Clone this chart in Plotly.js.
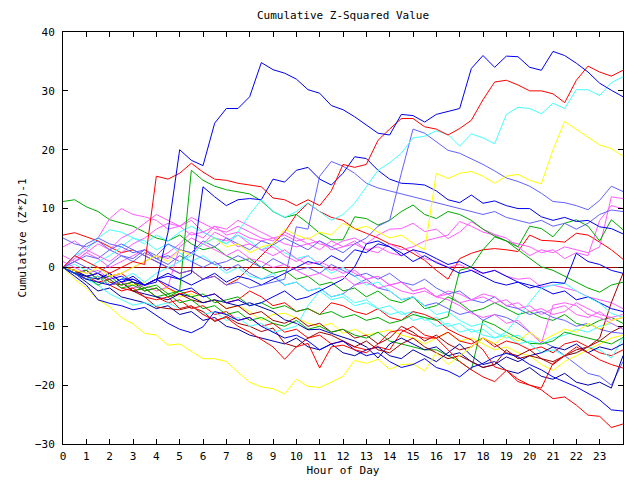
<!DOCTYPE html>
<html>
<head>
<meta charset="utf-8">
<script src="https://cdn.plot.ly/plotly-3.0.1.min.js"></script>
<style>html,body{margin:0;padding:0;background:#fff;}#chart{width:640px;height:480px;}</style>
</head>
<body>
<div id="chart"></div>
<script>
// Hour of day (half-hour samples)
const hours = [0,0.5,1,1.5,2,2.5,3,3.5,4,4.5,5,5.5,6,6.5,7,7.5,8,8.5,9,9.5,10,10.5,11,11.5,12,12.5,13,13.5,14,14.5,15,15.5,16,16.5,17,17.5,18,18.5,19,19.5,20,20.5,21,21.5,22,22.5,23,23.5,24];
const hourTicks = [0,1,2,3,4,5,6,7,8,9,10,11,12,13,14,15,16,17,18,19,20,21,22,23];
const valueTicks = [-30,-20,-10,0,10,20,30,40];

// Series values (cumulative Z*Z - 1)
const b1 = [0,-1,-2,-2.5,-3,-2,-2,-3,-2.5,6,20,18.2,17.3,24.5,27,27,29,34.8,33.6,33,32,30.2,29.6,27.5,26.8,25.6,24.2,22.8,22.5,26,25.8,24.7,26,26.5,27,33.8,36,34,35.9,35.8,34,33.5,36.7,36,34.7,33.2,31.3,30.1,29];
const r1 = [0,2,1,0,-1,0,1,0.5,15.5,15,16,17.7,16.2,15,14.8,14.3,14,13.7,11.8,11.5,10.5,11.5,10.5,13,17.5,17,17.5,21.6,23.5,25.3,25.3,23.9,23.5,22.5,23.6,25,28.5,31.5,31.8,31,30,30,29.5,28,31.8,34.2,33.2,32.5,33.5];
const c1 = [0,-1,-2,-1.5,-3,-2,-1,-2.5,-1,0,1,2,4,5,4,6,9,11.5,9.5,8.5,9.5,11,9.5,8,9,10.9,13.7,16.5,17.8,19.4,22,22.3,23.2,22.6,20.6,22.7,22,21,26,27.2,27,26.1,27.9,27,30.2,30.2,29.2,31.4,32.4];
const y1 = [0,-0.5,-1,0,-1.5,-1,0,1,2,1,3,2,4,5,3.5,4,2.5,3.5,4,6.5,5.5,4.8,6,5.5,7.5,6.5,7,6,5,5.5,4.1,3,16,15.1,16,16.3,15.5,14.3,15.5,15.8,14.8,14.2,20,24.8,23.5,22.2,20.8,20.2,18.9];
const sb2 = [0,1,0,-1,0.5,2,1.5,3,2,4,3,2.5,4.5,3.5,5,4,3,4.5,3.8,5,4,3,4.5,3.5,2.5,4,5,7,8,16,23.5,22.8,21.3,19.9,19.4,18.5,17.5,16.4,15.2,14.6,13.8,12.6,11.2,11,10.5,9.8,11.4,13.8,12.9];
const b4 = [0,-1,-1.5,-2,-1,-2.5,-2,-3,-2,-1.5,-2,-1,13.7,12,10.5,11.5,11.7,11.5,15,14.5,16.5,17,15,14,16,18.8,18.5,16.5,15,14.3,14.2,14,13,11.5,11,12.3,10.9,11.3,10.5,10,10,8.6,8,8.5,7.8,8,6.9,6.6,5.7];
const g2 = [0,-1,-1.5,-3,-2,-3.5,-3,-4,-3.5,-5,-4,16.5,14.8,13.8,13.2,12.9,12.5,11.3,9.5,8.5,9,7.5,5.8,4.7,4.7,8.6,8.3,7.2,8,9.5,10.6,9,8.3,9.5,9,8,6.5,5.3,4.5,3,1.5,0.1,-0.5,-1.5,-2.5,-3.5,-4.2,-3,-2.5];
const g1 = [11.2,11.5,10.3,9.5,8.1,7.5,7,6,5,4.5,5.5,4,3,3.5,2,1,1.5,0,-1,-0.5,-2,-1.5,-3,-2.5,-4,-3.5,-5,-4,-5.5,-6,-5,-7,-6.5,-5,-6,-7.5,-7,-6,-7,-8,-7.5,-8.5,-9,-8,-9.5,-10,-9,-8.5,-9.5];
const g3 = [0,-1,-0.5,-2,-1.5,-3,-2.5,-3.5,-3,-4.5,-4,-5,-4.5,-6,-5.5,-5,-6.5,-6,-7,-6.5,-7.5,-7,-8,-7.5,-8.5,-8,-9,-8.5,-9.5,-9,-8,-8.5,-9,-8.4,-0.5,0.1,3,5.2,4.5,3.5,7,6.6,5.2,7.5,8.1,7,4.5,8.1,6.4];
const g4 = [0,-1,-2,-1.5,-3,-2.5,-4,-3.5,-5,-4.5,-6,-5.5,-7,-6.5,-8,-7.5,-9,-8.5,-9.5,-10,-9,-10.5,-10,-11,-10.5,-11.5,-12,-11,-12.5,-13,-13.5,-14,-14,-15,-16,-17.4,-9,-9.8,-11,-12,-12.9,-13,-12.5,-11,-11.5,-12,-12.6,-13,-11.9];
const m1 = [3.5,4.5,3,5,8.3,10,9,8.6,8,6.5,7,5.5,6,5,4.5,5.5,4,3,3.5,2,1,2,0.5,-0.5,0,-1,-2,-1.5,-3,-2.5,-4,-3.5,-5,-4,-4.5,-5.5,-5,-6,-5.5,-7,-6.5,-8,-7,-6.5,-8,-8.5,-7.5,-9,-8.5];
const m2 = [2,1,2.5,1.5,0,1,2,3,1.5,2.5,4,6,5,7,6.5,8,7,6,5,5.5,4.5,5,4,3.5,4.5,5,4,5.5,6.5,6.6,7.5,6.1,6.5,4.9,6,7.8,6.5,5.6,5,3.5,2,3,2.5,3.5,3,2.5,3.5,12,11.7];
const m4 = [1,0,-1,-0.5,-2,-1,0,1,2,1.5,3,2.5,4,3,2,3,1.5,1,0,0.5,-0.5,-1.5,-1,-2,-1.5,-3,-2.5,-3.5,-3,-4,-4.5,-4,-5,-5.5,-6.5,-7.8,-8.5,-8,-9.5,-9,-11,-12.9,-6.4,-6,-6.5,-8,-8.5,-9.5,-10.5];
const m5 = [0,1.5,3,2,1,2.5,4,5,6.5,7.5,7,8,6,7,5.5,6,5,4.5,5,4,3.5,4,3,4.5,3.5,4,3,3.5,2.5,2,3,1.5,1,0,0.5,-0.5,-1,-0.5,-1.5,-2,-1.8,-3.3,-3,-3.5,-4,-5,-5.5,-6,-7];
const m6 = [0,-1,-2,-1.5,-3,-2.5,-3.5,-3,-4,-3.3,3.5,5,4,6,5,3.5,4,3,2,3,1.5,0.5,1,0,-1,-0.5,-2,-1.5,-3,-2.5,-4,-3.5,-5,-4.5,-6,-5.5,-4.5,-5,-6.5,-6,-7.5,-7,-8,-7.5,-6,-7,-8,-8.5,-8];
const m7 = [0,1,2.5,4,3,5,6,7.5,9,8,7,8.5,7.5,6.5,6,7,6,5,4.5,6,5,4,4.5,3,3.5,4.5,3,2.5,4,3,3.5,4.5,5,5.5,7.8,7,6,5.5,4.5,4,3.5,2.5,3,1.5,2.5,2,8,10.5,10];
const c2 = [0,2,3,5,6.4,6,5,4.5,3,4,2.5,1,2,0.5,-1,0,-1.5,-2,-1,-3,-2.5,-4,-3.5,-5,-4.5,-6,-5.5,-7,-6.5,-8,-7.5,-9,-8.5,-10,-9.5,-11,-10.5,-12,-11.5,-13,-12.5,-13,-12,-11.5,-10.5,-11,-10,-9.5,-10.5];
const c3 = [0,-1,-2,-3,-4.5,-5.5,-6.4,-6,-6.5,-6,-7,-6.5,-8,-7.5,-9,-8.5,-10,-9.5,-11,-10.5,-10,-6.5,-4,-5.5,-5,-6.5,-6,-7,-8,-7.5,-9,-8.5,-10,-9.5,-11,-10.5,-11.5,-12,-11,-8.4,-6,-3.5,-3,-2.7,-4,-5,-6.1,-7.8,-8.5];
const c4 = [0,0.5,-0.5,1,2,3.5,5,4,5.5,4.5,6,7,6,5,4,5.5,4.5,3,4,2.5,1.5,2,0.5,-1,0,-1.5,-3,-2.5,-4,-5.5,-5,-6.5,-8,-7.5,-9,-10,-9.5,-11,-12,-11.5,-13,-14.5,-14,-15,-14.5,-13.5,-14,-15.4,-12];
const dr1 = [0,-1,-2,-1.5,-3,-2.5,-4,-5,-6.7,-7,-7.2,-6.7,-7.5,-9.2,-8.3,-9.5,-10,-10.9,-10.3,-12.9,-13.5,-12,-11,-11.5,-12.5,-13.5,-12.5,-14,-14.5,-13,-12,-13.5,-14.5,-15.5,-15,-16,-17,-16.5,-14,-15.5,-15,-15.5,-16,-15,-14.5,-13.5,-12,-6,-1];
const dr2 = [0,-0.5,-1.5,-1,-2.5,-3,-2.5,-4,-3.5,-5,-4.5,-5.5,-6,-5.5,-7,-6.5,-8,-7.5,-9,-9.5,-8.5,-10,-9.5,-11,-10.5,-12,-11.5,-13,-12,-10,-11,-12.5,-11.5,-13,-14,-13.5,-12,-13,-14.5,-15,-14,-15.5,-16.5,-15,-14,-13.5,-12.5,-11,-10];
const r3 = [5.5,5.9,5.2,4.5,3.5,2.5,3,2,1,0,-1,-0.5,-2,-1.5,-3,-2,0,2,4,6,9,10.9,9.5,8.5,8,6.6,5.8,5,4,3.5,2.4,1.2,-0.5,-2,1.5,2.4,3,3.2,3,2.7,5.5,4.6,4.5,4.3,5.8,5.5,4.3,3,1.4];
const r2 = [0,-0.5,-2,-1.5,-3,-4,-3.5,-5,-5.5,-5,-7,-6.5,-8,-9,-8.5,-10,-11,-12.2,-13.5,-15.6,-13.5,-12.9,-17.1,-13.5,-13.2,-14,-14.5,-13,-11,-10.6,-11.5,-12,-12,-14,-16,-17.4,-18.6,-19.4,-17.5,-19.4,-20,-20.8,-22.3,-22,-23.4,-25.1,-25.3,-27.2,-26.6];
const r4 = [0,-1,-0.5,-2,-1.5,-1,-2.5,-3,-2,-3.5,-4.5,-4,-5,-4.5,-6,-5.5,-4,-5,-6.5,-6,-7.5,-7,-8,-6,-6.5,-7.5,-8,-7,-8.5,-9,-7.5,-8,-8.9,-10.5,-11.5,-12.3,-14,-16.9,-17.5,-19,-20,-20.5,-16.3,-15,-13.5,-14.5,-15.7,-16.5,-17.1];
const r5 = [0,-1,-1.5,-2.5,-2,-3.5,-4,-3.5,-5,-6,-5.5,-7,-6.5,-8,-7.5,-9,-8.5,-10,-9.5,-11,-10.5,-12,-11.5,-13,-12.5,-13.5,-14,-13.5,-14,-11,-10,-11.5,-12,-11,-12.5,-13,-12,-13.5,-12.5,-13,-14,-13.5,-14.5,-13,-12.5,-13.5,-14.5,-15,-14];
const b2 = [0,-1.5,-3,-5.5,-6.1,-6.5,-7.2,-6.8,-8.1,-9.5,-10.5,-11.1,-10.1,-7.5,-8,-9,-8.5,-10,-11,-12,-11.5,-12.5,-14,-13,-12.5,-14,-15,-14.5,-16,-17,-16.5,-15.5,-17,-17.6,-18.6,-17,-16.3,-15.2,-14.6,-15.2,-16.5,-17.4,-18.6,-19.5,-20.3,-21.4,-22.5,-24.2,-24.4];
const b3 = [0,-1,-2.5,-4,-3.5,-5,-5.5,-6,-7,-6.5,-8,-7.5,-9,-8.5,-10,-10.5,-11.5,-12,-12.5,-13,-12,-13.5,-14,-13,-14.5,-15,-14,-13.5,-15,-15.5,-14,-15,-16,-14.5,-13,-15,-16.5,-16,-17.5,-18,-17,-18.5,-19,-18,-19.5,-20,-19.5,-20.5,-15];
const b5 = [0,-0.5,-1.5,-1,-2,-1.5,-2.5,-3,-2,-3,-4,-3.5,-5,-4.5,-6,-5.5,-6.5,-6,-5,-4,-5.5,-5,-4,-3,-2,0.1,4,4.5,3.5,2.5,1,2,0.8,0,-1,-0.5,-1.5,-2.5,-3,-2.5,-3.5,-3,-2.5,-2.7,2.4,1,0.5,-0.5,-1];
const b6 = [0,-1,-0.5,-2,-1,-2.5,-1.5,-3,-2,-1,-2,-3,-2,-1,-2.5,-1.5,-2,-3,-2,-1,0,1,0.5,2,1,3,2.5,4,3.5,2,3,2.5,1.5,0.5,1,0,-1,-0.5,-1.5,-2.5,-3,-3.5,-4.5,-4,-5.5,-5,-6,-7,-7.5];
const b7 = [0,-1,-2,-1.5,-3,-2.5,-4,-4.5,-5,-5.5,-4.5,-5,-6,-5.5,-6,-6.5,-6,-6.7,-7.5,-8.9,-9.5,-10.6,-10.5,-11.2,-11.8,-12.5,-13.5,-15.4,-13,-12,-13,-14,-13.5,-15,-14.5,-16,-17,-16.5,-15.2,-16,-15,-14.5,-13.5,-14,-13,-14.5,-13.5,-14,-13];
const y2 = [0,-2,-3.5,-5.5,-6.7,-8.5,-9.6,-11.2,-11.5,-13.2,-13,-14.3,-15.5,-15.5,-16,-17.8,-19.5,-20.3,-20.6,-21.5,-19,-20.2,-20.4,-19.5,-18.5,-15.8,-16.3,-15.6,-17.3,-16.5,-16.4,-17.6,-14.5,-16.5,-15,-13.5,-12,-13,-11.5,-12.5,-11,-12.5,-11.5,-10.5,-11,-9.5,-10.5,-9,-8.5];
const y3 = [0,-0.5,-1.5,-2,-1,-2.5,-3,-2.5,-4,-3.5,-5,-4.5,-6,-5.5,-7,-6.5,-7.5,-9,-8,-7.8,-8.6,-9.5,-10,-9.5,-11.2,-10.5,-11.5,-11,-10.6,-11.5,-12,-13,-12,-11,-12.5,-12,-13,-14,-13.5,-14.5,-15,-16.5,-17.5,-16,-15,-14,-13,-12,-11.5];
const sb1 = [5,4,3.5,4.5,3,4,3,2,1,0,-1,-0.5,-2,-1.5,-3,-2.5,-3.5,-3,-2.5,-2,6.9,6.5,15.5,18,17.2,16,14.3,13.5,13,12.5,12,11.5,11,10.5,10,9.5,9,9.5,8.5,8,7.5,8,7,7.5,6.5,7.5,9,9.75,9.5];
const sb3 = [0,1,2,1.5,3,2,1,2.5,1.5,0.5,2,1,0,1,-0.5,0.5,-1,-2,-1.5,-3,-2.5,-4,-3.5,-5,-4.5,-3,-2,-3.5,-4,-5.5,-5,-6.5,-6,-7,-8,-7.5,-9,-8,-8.5,-9.5,-11,-12.5,-13.5,-15,-16.5,-18,-18.5,-20,-16];
const sb4 = [0,2,4,5,4,3.5,2.5,3,1.5,2,1,2.5,1.5,0.5,1,2,1,0,1.5,0.5,-0.5,0,-1,0.5,-0.5,-1.5,-1,-2,-1,-2.5,-3,-2,-3.5,-4.5,-4,-5.5,-6,-5,-6.5,-7,-8,-7.5,-8.5,-9,-10,-9.5,-10.5,-11,-11.2];

// Styling (kept apart from data)
const RED = '#ff0000', GREEN = '#00aa00', BLUE = '#0000ee', NAVY = '#0000a8', MAGENTA = '#ff5cff',
      CYAN = '#44ffff', DARKRED = '#a00000', YELLOW = '#ffff00', SLATE = '#6262ff';

const seriesList = [
  [g1, GREEN], [r3, RED], [m1, MAGENTA], [m2, MAGENTA], [sb3, SLATE], [c2, CYAN],
  [y3, YELLOW], [dr2, DARKRED], [r5, RED], [g4, GREEN], [c4, CYAN], [m5, MAGENTA],
  [sb4, SLATE], [m7, MAGENTA], [b6, BLUE],
  [b7, NAVY], [b3, NAVY], [dr1, DARKRED], [r4, RED], [m6, MAGENTA], [c3, CYAN],
  [g3, GREEN], [b5, BLUE], [m4, MAGENTA], [y2, YELLOW], [b2, BLUE], [r2, RED],
  [sb1, SLATE], [g2, GREEN], [b4, BLUE], [sb2, SLATE], [y1, YELLOW], [c1, CYAN],
  [r1, RED], [b1, BLUE]
];

const traces = seriesList.map(([vals, col]) => ({
  type: 'scatter', mode: 'lines', x: hours, y: vals,
  line: {color: col, width: 1}, hoverinfo: 'skip', showlegend: false
}));

const FONT = '"DejaVu Sans Mono", "Liberation Mono", monospace';

const layout = {
  width: 640, height: 480,
  margin: {l: 63, r: 17, t: 32, b: 36, pad: 0},
  paper_bgcolor: '#ffffff', plot_bgcolor: '#ffffff',
  font: {family: FONT, size: 11, color: '#000'},
  showlegend: false,
  title: {text: 'Cumulative Z-Squared Value', font: {family: FONT, size: 11, color: '#000'},
          x: 0.5, xref: 'paper', y: 1 - 15/480, yref: 'container', yanchor: 'middle'},
  xaxis: {
    range: [0, 24], tickmode: 'array', tickvals: hourTicks, ticktext: hourTicks.map(String),
    ticks: 'inside', ticklen: 5, tickwidth: 1, tickcolor: '#000',
    showline: true, linecolor: '#000', linewidth: 1, mirror: 'ticks',
    showgrid: false, zeroline: false, ticklabelstandoff: 2,
    tickfont: {family: FONT, size: 11, color: '#000'},
    title: {text: 'Hour of Day', font: {family: FONT, size: 11, color: '#000'}, standoff: 4},
    automargin: false, fixedrange: true
  },
  yaxis: {
    range: [-30, 40], tickmode: 'array', tickvals: valueTicks,
    ticks: 'inside', ticklen: 5, tickwidth: 1, tickcolor: '#000',
    showline: true, linecolor: '#000', linewidth: 1, mirror: 'ticks',
    showgrid: false, zeroline: true, zerolinecolor: '#a00000', zerolinewidth: 1,
    ticklabelstandoff: 5,
    tickfont: {family: FONT, size: 11, color: '#000'},
    title: {text: 'Cumulative (Z*Z)-1', font: {family: FONT, size: 11, color: '#000'}, standoff: 6},
    automargin: false, fixedrange: true
  }
};

Plotly.newPlot('chart', traces, layout, {staticPlot: true, displayModeBar: false});
</script>
</body>
</html>
